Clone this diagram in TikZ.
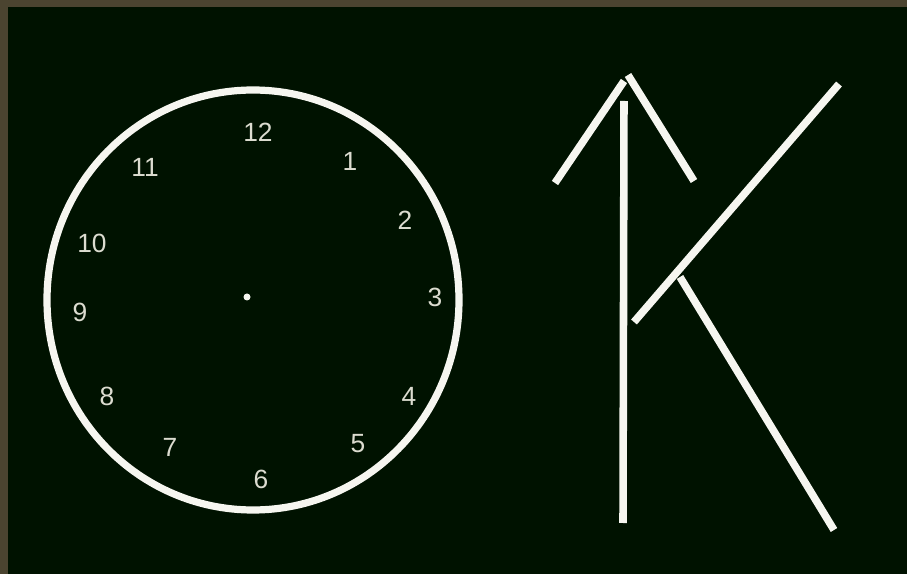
\documentclass[tikz,border=0pt]{standalone}
\usepackage{fontspec}
\setmainfont{Liberation Sans}
\definecolor{boardframe}{HTML}{4B4430}
\definecolor{boardgreen}{HTML}{001200}
\definecolor{chalk}{HTML}{F6F6F0}
\definecolor{chalktext}{HTML}{DCDCD0}
\tikzset{
  stick/.style={draw=chalk, line width=4.3pt, line cap=butt},
  hour/.style={text=chalktext, font=\fontsize{15}{17}\selectfont, inner sep=0pt},
}
\begin{document}
\begin{tikzpicture}[x=0.02cm, y=-0.02cm]
    \useasboundingbox (0,0) rectangle (907,574);
    % board
    \fill[boardframe] (0,0) rectangle (907,574);
    \fill[boardgreen] (8,7) rectangle (907,574);
    % clock face
    \draw[chalk, line width=4.1pt] (253,300) ellipse [x radius=206, y radius=210];
    \fill[chalk] (247,297) circle [radius=3.5];
    \node[hour] (h12) at (258,132) {12};
    \node[hour] (h1) at (350,161) {1};
    \node[hour] (h2) at (405,220) {2};
    \node[hour] (h3) at (435,297) {3};
    \node[hour] (h4) at (409,396) {4};
    \node[hour] (h5) at (358,444) {5};
    \node[hour] (h6) at (261,479) {6};
    \node[hour] (h7) at (170,447) {7};
    \node[hour] (h8) at (107,396) {8};
    \node[hour] (h9) at (80,312) {9};
    \node[hour] (h10) at (92,243) {10};
    \node[hour] (h11) at (145,167) {11};
    % sticks spelling K with an arrow
    \coordinate (ktop) at (624,101);
    \coordinate (kbot) at (623,523);
    \coordinate (tipl) at (624,81);
    \coordinate (tipr) at (628,75);
    \coordinate (barbl) at (555,183);
    \coordinate (barbr) at (694,181);
    \coordinate (armin) at (634,322);
    \coordinate (armout) at (839,84);
    \coordinate (legin) at (680,277);
    \coordinate (legout) at (834,530);
    \draw[stick] (ktop) -- (kbot);
    \draw[stick] (barbl) -- (tipl);
    \draw[stick] (tipr) -- (barbr);
    \draw[stick] (armin) -- (armout);
    \draw[stick] (legin) -- (legout);
  \end{tikzpicture}
\end{document}
